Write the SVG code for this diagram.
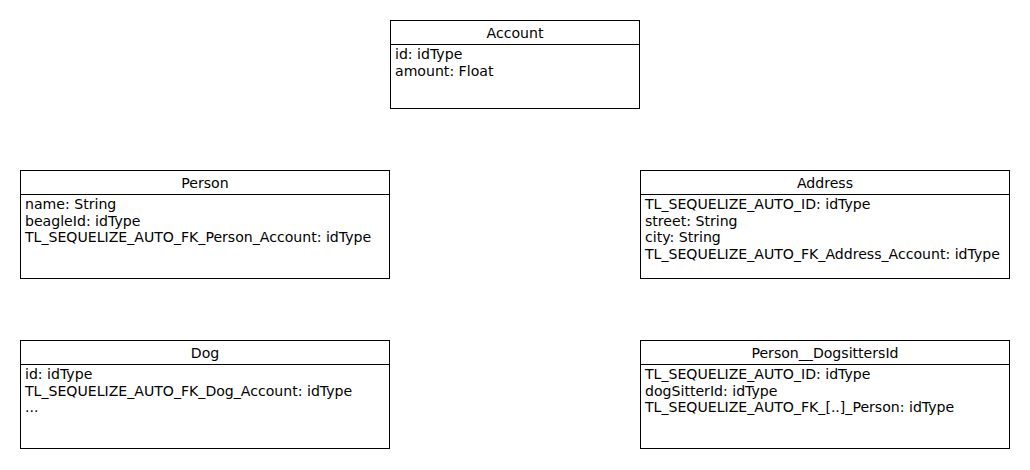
<svg xmlns="http://www.w3.org/2000/svg" width="1030" height="470" viewBox="0 0 1030 470">
<style>
.box{fill:#fff;stroke:#000;stroke-width:1}
.sep{stroke:#000;stroke-width:1}
text{font-family:"DejaVu Sans",sans-serif;font-size:14.1px;fill:#000}
.t{text-anchor:middle}
</style>
<rect width="1030" height="470" fill="#fff"/>
<g id="connectors"></g>
<g id="account">
<rect class="box" x="390.5" y="20.5" width="249" height="88"/>
<line class="sep" x1="390.5" y1="44.5" x2="639.5" y2="44.5"/>
<text class="t" x="515" y="38">Account</text>
<text x="395" y="59">id: idType</text>
<text x="395" y="75.5">amount: Float</text>
</g>
<g id="person">
<rect class="box" x="20.5" y="170.5" width="369" height="108"/>
<line class="sep" x1="20.5" y1="194.5" x2="389.5" y2="194.5"/>
<text class="t" x="205" y="188">Person</text>
<text x="25" y="209">name: String</text>
<text x="25" y="225.5">beagleId: idType</text>
<text x="25" y="242">TL_SEQUELIZE_AUTO_FK_Person_Account: idType</text>
</g>
<g id="address">
<rect class="box" x="640.5" y="170.5" width="369" height="108"/>
<line class="sep" x1="640.5" y1="194.5" x2="1009.5" y2="194.5"/>
<text class="t" x="825" y="188">Address</text>
<text x="645" y="209">TL_SEQUELIZE_AUTO_ID: idType</text>
<text x="645" y="225.5">street: String</text>
<text x="645" y="242">city: String</text>
<text x="645" y="258.5">TL_SEQUELIZE_AUTO_FK_Address_Account: idType</text>
</g>
<g id="dog">
<rect class="box" x="20.5" y="340.5" width="369" height="108"/>
<line class="sep" x1="20.5" y1="364.5" x2="389.5" y2="364.5"/>
<text class="t" x="205" y="358">Dog</text>
<text x="25" y="379">id: idType</text>
<text x="25" y="395.5">TL_SEQUELIZE_AUTO_FK_Dog_Account: idType</text>
<text x="25" y="412">...</text>
</g>
<g id="person-dogsittersid">
<rect class="box" x="640.5" y="340.5" width="369" height="108"/>
<line class="sep" x1="640.5" y1="364.5" x2="1009.5" y2="364.5"/>
<text class="t" x="825" y="358">Person__DogsittersId</text>
<text x="645" y="379">TL_SEQUELIZE_AUTO_ID: idType</text>
<text x="645" y="395.5">dogSitterId: idType</text>
<text x="645" y="412">TL_SEQUELIZE_AUTO_FK_[..]_Person: idType</text>
</g>
</svg>
